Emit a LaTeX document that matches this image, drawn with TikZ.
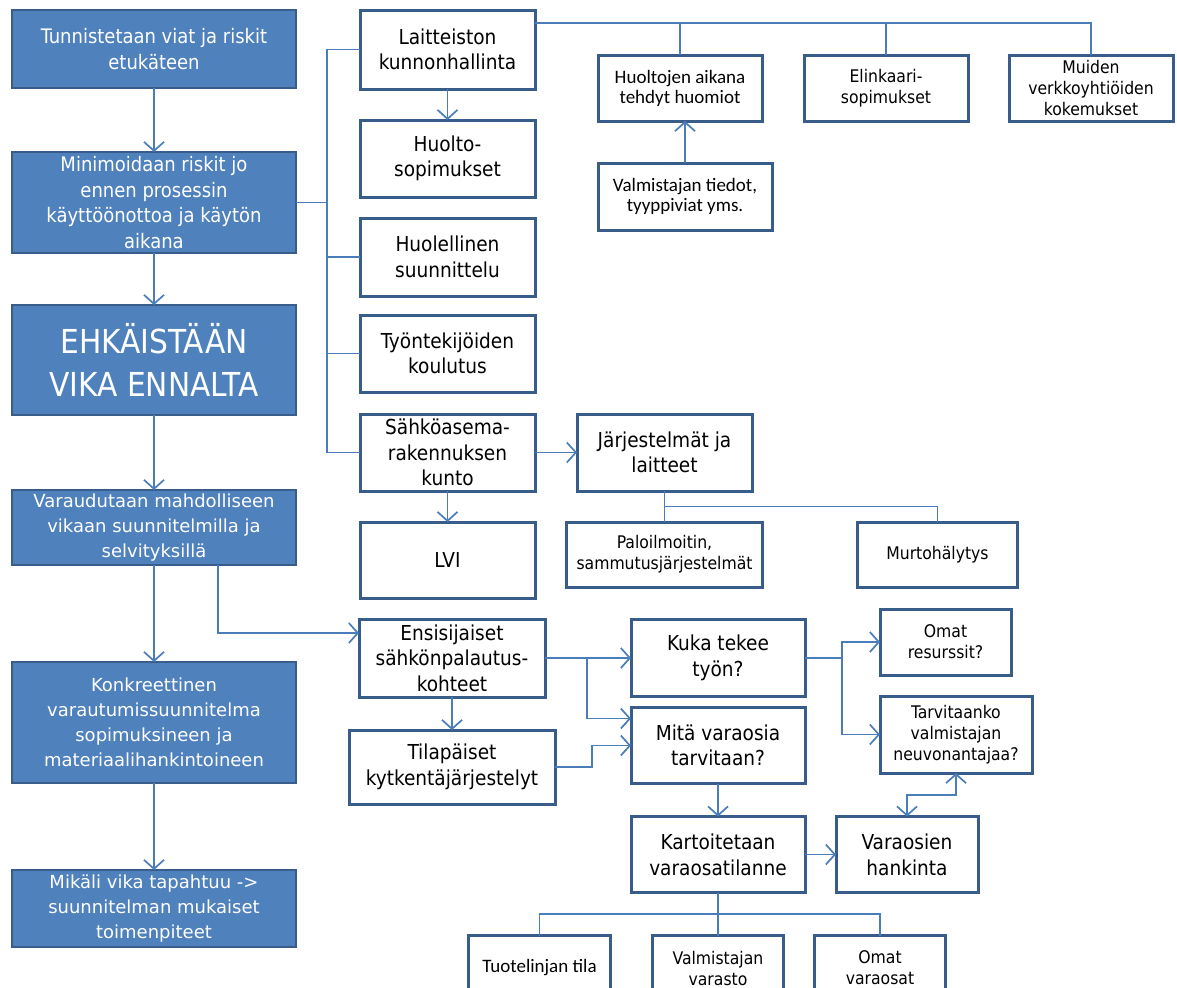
\documentclass[tikz,border=0pt]{standalone}
\usepackage{fontspec}
\newfontfamily\tahoma{DejaVu Sans Condensed}
\newfontfamily\verdana{DejaVu Sans}
\newfontfamily\calibri{Carlito}
\usepackage{xcolor}
\definecolor{boxBlue}{HTML}{4F81BD}
\definecolor{boxEdge}{HTML}{385D8A}
\definecolor{lineBlue}{HTML}{4A7EBB}
\usepackage{tikz}
\usetikzlibrary{arrows.meta,positioning,calc}

\begin{document}
\begin{tikzpicture}[
  x=0.5pt,y=-0.5pt,
  mainbox/.style={draw=boxEdge,fill=boxBlue,line width=1pt,text=white,align=center,inner sep=0pt,outer sep=0pt,minimum width=142pt,font=\tahoma\fontsize{10}{13}\selectfont},
  widebox/.style={mainbox,font=\verdana\fontsize{9}{12.5}\selectfont},
  subbox/.style={draw=boxEdge,fill=white,line width=1.5pt,align=center,inner sep=0pt,outer sep=0pt,minimum width=87.5pt,minimum height=38.5pt,font=\tahoma\fontsize{10.3}{12.8}\selectfont},
  smallbox/.style={subbox,font=\tahoma\fontsize{8.7}{10.5}\selectfont},
  calbox/.style={subbox,font=\calibri\fontsize{9.5}{10}\selectfont},
  conn/.style={draw=lineBlue,line width=0.85pt},
  arr/.style={conn,-{Straight Barb[length=4.5pt,width=10pt]}},
  barr/.style={conn,{Straight Barb[length=4.5pt,width=10pt]}-{Straight Barb[length=4.5pt,width=10pt]}}
]
\useasboundingbox (0,0) rectangle (1177,987);
\clip (0,0) rectangle (1177,987);
% left column
\node[mainbox,minimum height=39pt] (tunn) at (154,49) {Tunnistetaan viat ja riskit\\etukäteen};
\node[mainbox,minimum height=50.5pt,font=\tahoma\fontsize{10}{12.7}\selectfont,below=32pt of tunn] (mini) {Minimoidaan riskit jo\\ennen prosessin\\käyttöönottoa ja käytön\\aikana};
\node[mainbox,minimum height=55pt,font=\tahoma\fontsize{16.5}{21.5}\selectfont,below=26pt of mini] (ehk) {EHKÄISTÄÄN\\VIKA ENNALTA};
\node[widebox,minimum height=37.5pt,below=37.5pt of ehk] (varau) {Varaudutaan mahdolliseen\\vikaan suunnitelmilla ja\\selvityksillä};
\node[widebox,minimum height=60.5pt,below=48.5pt of varau] (konk) {Konkreettinen\\varautumissuunnitelma\\sopimuksineen ja\\materiaalihankintoineen};
\node[widebox,minimum height=38.5pt,below=43.5pt of konk] (mika) {Mikäli vika tapahtuu ->\\suunnitelman mukaiset\\toimenpiteet};
% second column
\node[subbox,minimum height=39.5pt] (laite) at (447.5,49.5) {Laitteiston\\kunnonhallinta};
\node[subbox,below=15.5pt of laite] (huolto) {Huolto-\\sopimukset};
\node[subbox,minimum height=39pt,below=10.5pt of huolto] (huolel) {Huolellinen\\suunnittelu};
\node[subbox,below=9.5pt of huolel] (tyont) {Työntekijöiden\\koulutus};
\node[subbox,below=11pt of tyont] (sahko) {Sähköasema-\\rakennuksen\\kunto};
\node[subbox,minimum height=38pt,below=15.5pt of sahko] (lvi) {LVI};
% top right
\node[calbox,minimum width=82pt,minimum height=33pt] (huomiot) at (680,88) {Huoltojen aikana\\tehdyt huomiot};
\node[smallbox,minimum width=82pt,minimum height=33pt,right=21pt of huomiot] (elink) {Elinkaari-\\sopimukset};
\node[smallbox,minimum width=82pt,minimum height=33pt,right=20.5pt of elink] (muiden) {Muiden\\verkkoyhtiöiden\\kokemukset};
\node[calbox,minimum width=87pt,minimum height=33.5pt,below=21pt of huomiot,xshift=2.5pt] (valmtied) {Valmistajan tiedot,\\tyyppiviat yms.};
% building
\node[subbox,right=21pt of sahko] (jarj) {Järjestelmät ja\\laitteet};
\node[smallbox,minimum width=98pt,minimum height=32.5pt,below=15.5pt of jarj] (palo) {Paloilmoitin,\\sammutusjärjestelmät};
\node[smallbox,minimum width=80pt,minimum height=32.5pt,right=47.5pt of palo] (murto) {Murtohälytys};
% restoration
\node[subbox,minimum width=93pt,minimum height=39pt] (ensi) at (452,658) {Ensisijaiset\\sähkönpalautus-\\kohteet};
\node[subbox,minimum width=103pt,minimum height=37pt,below=16.5pt of ensi] (tila) {Tilapäiset\\kytkentäjärjestelyt};
\node[subbox,minimum width=87pt,right=43pt of ensi] (kuka) {Kuka tekee\\työn?};
\node[subbox,minimum width=87pt,minimum height=38pt,below=5.5pt of kuka] (mita) {Mitä varaosia\\tarvitaan?};
\node[subbox,minimum width=87pt,minimum height=38pt,below=16.5pt of mita] (kart) {Kartoitetaan\\varaosatilanne};
\node[subbox,minimum width=71pt,minimum height=38pt,right=15.5pt of kart] (hank) {Varaosien\\hankinta};
\node[smallbox,minimum width=65.5pt,minimum height=33pt] (omat) at (945.5,642) {Omat\\resurssit?};
\node[smallbox,minimum width=76pt,minimum height=38.5pt] (tarv) at (956,734.5) {Tarvitaanko\\valmistajan\\neuvonantajaa?};
\node[smallbox,minimum width=65.5pt,minimum height=32.5pt,below=21.5pt of kart] (valvar) {Valmistajan\\varasto};
\node[calbox,minimum width=71pt,minimum height=32.5pt,left=21pt of valvar] (tuot) {Tuotelinjan tila};
\node[smallbox,minimum width=65.5pt,minimum height=32.5pt,right=15.5pt of valvar] (omvar) {Omat\\varaosat};
% left chain
\draw[arr] (tunn) -- (mini);
\draw[arr] (mini) -- (ehk);
\draw[arr] (ehk) -- (varau);
\draw[arr] (varau) -- (konk);
\draw[arr] (konk) -- (mika);
% tree of the second column
\coordinate (trunk) at ([xshift=-16.5pt]sahko.west);
\draw[conn] (laite.west) -| (trunk) -- (sahko.west);
\draw[conn] (mini.east) -- (mini.east -| trunk);
\draw[conn] (huolel.west) -- (huolel.west -| trunk);
\draw[conn] (tyont.west) -- (tyont.west -| trunk);
\draw[arr] (laite) -- (huolto);
\draw[arr] (sahko) -- (lvi);
\draw[arr] (sahko) -- (jarj);
% top line
\coordinate (topline) at ([yshift=-6.5pt]laite.north east);
\draw[conn] (topline) -| (muiden.north);
\draw[conn] (huomiot.north) -- (huomiot.north |- topline);
\draw[conn] (elink.north) -- (elink.north |- topline);
\draw[arr] (valmtied.north) -- (valmtied.north |- huomiot.south);
% building systems
\coordinate (jsplit) at ($(jarj.south)!0.5!(palo.north)$);
\draw[conn] (jarj) -- (palo);
\draw[conn] (jsplit) -| (murto.north);
% restoration
\draw[arr] ([xshift=32pt]varau.south) |- ([yshift=12.5pt]ensi.west);
\draw[arr] (ensi) -- (kuka);
\coordinate (ebr) at ([xshift=21pt]ensi.east);
\draw[arr] (ebr) |- ([yshift=13.5pt]mita.west);
\draw[arr] (ensi) -- (tila);
\draw[arr] (tila.east) -- ++(18.5pt,0) |- (mita.west);
\coordinate (kbr) at ([xshift=18.5pt]kuka.east);
\draw[conn] (kuka.east) -- (kbr);
\draw[arr] (kbr) |- (omat.west);
\draw[arr] (kbr) |- (tarv.west);
\draw[arr] (mita) -- (kart);
\draw[arr] (kart) -- (hank);
\coordinate (tvmid) at ($(tarv.south)!0.5!(hank.north)$);
\draw[barr] (tarv.south) |- (tvmid) -| (hank.north);
\coordinate (ksplit) at ($(kart.south)!0.5!(valvar.north)$);
\draw[conn] (kart) -- (valvar);
\draw[conn] (tuot.north) |- (ksplit) -| (omvar.north);
\end{tikzpicture}
\end{document}
